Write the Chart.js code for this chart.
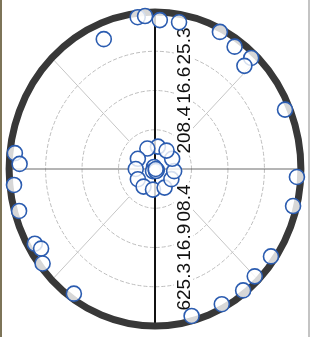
<!DOCTYPE html>
<html>
<head>
<meta charset="utf-8">
<script src="https://cdn.jsdelivr.net/npm/chart.js@4"></script>
<style>
html, body { margin: 0; padding: 0; background: #fff; }
#wrap { width: 310px; height: 337px; position: relative; }
</style>
</head>
<body>
<div id="wrap"><canvas id="polar"></canvas></div>
<script>
// polar scatter: angle in degrees (0 = right, counter clockwise), radius in data units
var step = 208.4;
var rMax = 4 * step;
var tickValues = [208.4, 416.8, 625.2];
var topTicks = ['208.4', '416.6', '625.3'];
var bottomTicks = ['208.4', '416.9', '625.3'];

var outerAngle = [97, 94, 88, 80, 113, 63, 55, 47, 47, 23, 174, 178, 186, 196, 210, 213, 218, 235, 285, 298, 308, 315, 325, 346, 357];
var outerRadius = [812, 814, 791, 791, 749, 817, 793, 806, 749, 807, 805, 774, 810, 808, 793, 776, 815, 808, 808, 813, 818, 806, 809, 813, 812];

var clusterAngle = [82, 112, 151, 180, 209, 235, 264, 299, 330, 354, 29, 56];
var clusterRadius = [120, 117, 112, 110, 112, 114, 110, 113, 108, 110, 112, 118];

var centerAngle = [117, 333, 225, 297, 0];
var centerRadius = [12, 12, 16, 12, 4];

function toXY(angles, radii) {
    return angles.map(function(a, i) {
        var t = a * Math.PI / 180;
        return { x: radii[i] * Math.cos(t), y: radii[i] * Math.sin(t) };
    });
}

var points = toXY(outerAngle, outerRadius)
    .concat(toXY(clusterAngle, clusterRadius))
    .concat(toXY(centerAngle, centerRadius));

var polarGrid = {
    id: 'polarGrid',
    beforeDatasetsDraw: function(chart) {
        var ctx = chart.ctx,
            xs = chart.scales.x,
            ys = chart.scales.y,
            cx = xs.getPixelForValue(0),
            cy = ys.getPixelForValue(0);
        var rx = function(v) { return xs.getPixelForValue(v) - cx; };
        var ry = function(v) { return cy - ys.getPixelForValue(v); };

        ctx.save();
        // scan edges
        ctx.fillStyle = '#7d7458';
        ctx.fillRect(0, 0, 2, chart.height);
        ctx.fillStyle = '#c4c4c4';
        ctx.fillRect(chart.width - 2, 0, 2, chart.height);

        // rings
        ctx.strokeStyle = '#bdbdbd';
        ctx.lineWidth = 1;
        ctx.setLineDash([4, 2]);
        for (var i = 1; i <= 3; i++) {
            ctx.beginPath();
            ctx.ellipse(cx, cy, rx(step * i), ry(step * i), 0, 0, Math.PI * 2);
            ctx.stroke();
        }
        ctx.setLineDash([]);

        // spokes
        ctx.strokeStyle = '#c6c6c6';
        [45, 135, 225, 315].forEach(function(a) {
            var t = a * Math.PI / 180;
            ctx.beginPath();
            ctx.moveTo(cx + rx(step) * Math.cos(t), cy - ry(step) * Math.sin(t));
            ctx.lineTo(cx + rx(rMax) * Math.cos(t), cy - ry(rMax) * Math.sin(t));
            ctx.stroke();
        });

        // horizontal line
        ctx.strokeStyle = '#6a6a6a';
        ctx.beginPath();
        ctx.moveTo(xs.left, cy);
        ctx.lineTo(xs.right, cy);
        ctx.stroke();

        // vertical axis
        ctx.strokeStyle = '#111';
        ctx.lineWidth = 2;
        ctx.beginPath();
        ctx.moveTo(cx, ys.top);
        ctx.lineTo(cx, ys.bottom);
        ctx.stroke();

        // outer ring
        ctx.strokeStyle = '#383838';
        ctx.lineWidth = 7;
        ctx.beginPath();
        ctx.ellipse(cx, cy, rx(rMax), ry(rMax), 0, 0, Math.PI * 2);
        ctx.stroke();

        // tick labels, rotated, with white backdrop
        ctx.font = '19px "Liberation Sans", Arial, sans-serif';
        ctx.textAlign = 'center';
        ctx.textBaseline = 'alphabetic';
        var drawLabel = function(text, y) {
            var w = ctx.measureText(text).width;
            ctx.save();
            ctx.translate(cx + 35, y);
            ctx.rotate(-Math.PI / 2);
            ctx.fillStyle = '#fff';
            ctx.fillRect(-w / 2 - 2, -16, w + 4, 19);
            ctx.fillStyle = '#111';
            ctx.fillText(text, 0, 0);
            ctx.restore();
        };
        for (var j = topTicks.length - 1; j >= 0; j--) {
            drawLabel(topTicks[j], ys.getPixelForValue(tickValues[j]));
        }
        for (var k = 0; k < bottomTicks.length; k++) {
            drawLabel(bottomTicks[k], ys.getPixelForValue(-tickValues[k]));
        }
        ctx.restore();
    }
};

new Chart(document.getElementById('polar').getContext('2d'), {
    type: 'scatter',
    data: {
        datasets: [{
            data: points,
            pointRadius: 7.5,
            pointBorderWidth: 1.6,
            borderColor: '#2b5cb0',
            backgroundColor: 'rgba(255,255,255,0.8)',
            clip: false
        }]
    },
    options: {
        responsive: true,
        maintainAspectRatio: false,
        animation: false,
        events: [],
        layout: {
            padding: { left: 3, right: 3, top: 12, bottom: 11 }
        },
        plugins: {
            legend: { display: false },
            tooltip: { enabled: false }
        },
        scales: {
            x: { type: 'linear', min: -rMax, max: rMax, display: false },
            y: { type: 'linear', min: -rMax, max: rMax, display: false }
        }
    },
    plugins: [polarGrid]
});
</script>
</body>
</html>
